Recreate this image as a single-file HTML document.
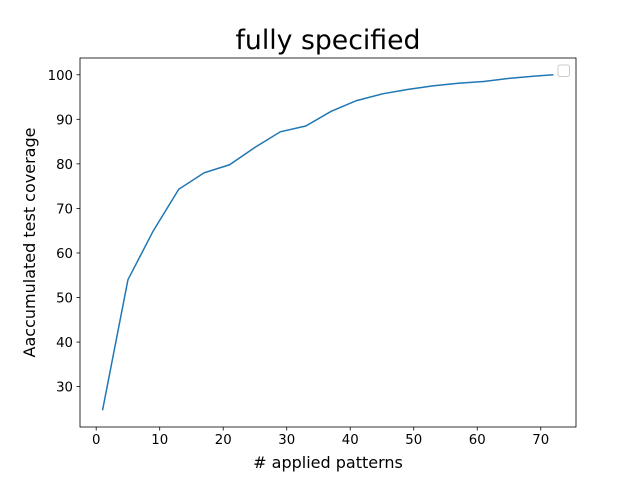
<!DOCTYPE html>
<html><head><meta charset="utf-8"><style>
body{margin:0;background:#fff}
svg text{font-family:"DejaVu Sans","Liberation Sans",sans-serif;fill:#000}
</style></head><body>
<svg width="640" height="480" id="c">
<rect width="640" height="480" fill="#fff"/>
<text x="328" y="49" font-size="26.7" text-anchor="middle">fully specified</text>
<g id="ax"></g>
<path id="line" fill="none" stroke="#1f77b4" stroke-width="1.5"/>
<rect x="80" y="58" width="496" height="369" fill="none" stroke="#000" stroke-width="0.8"/>
<rect x="558" y="65" width="11.5" height="11.5" rx="2" fill="#fff" stroke="#ccc" stroke-width="1"/>
<text x="328" y="468" font-size="16" text-anchor="middle"># applied patterns</text>
<text transform="translate(35,242.5) rotate(-90)" font-size="16" text-anchor="middle">Aaccumulated test coverage</text>
</svg>
<script>
const patterns=[1,5,9,13,17,21,25,29,33,37,41,45,49,53,57,61,65,69,72];
const coverage=[24.7,54,65,74.3,78,79.8,83.7,87.2,88.5,91.8,94.2,95.7,96.7,97.5,98.1,98.5,99.2,99.7,100];
const xTicks=[0,10,20,30,40,50,60,70];
const yTicks=[30,40,50,60,70,80,90,100];
const L=80,R=576,T=58,B=427;
const xmin=Math.min(...patterns),xmax=Math.max(...patterns),ymin=Math.min(...coverage),ymax=Math.max(...coverage);
const x0=xmin-(xmax-xmin)*0.05,x1=xmax+(xmax-xmin)*0.05,y0=ymin-(ymax-ymin)*0.05,y1=ymax+(ymax-ymin)*0.05;
const sx=v=>L+(v-x0)/(x1-x0)*(R-L), sy=v=>B-(v-y0)/(y1-y0)*(B-T);
const NS="http://www.w3.org/2000/svg",ax=document.getElementById('ax');
function mk(t,a){const e=document.createElementNS(NS,t);for(const k in a)e.setAttribute(k,a[k]);ax.appendChild(e);return e;}
xTicks.forEach(v=>{const x=sx(v);
const l=mk('line',{x1:x,x2:x,y1:B,y2:B+3.5,stroke:'#000','stroke-width':0.8});


const t=mk('text',{x:x,y:B+17,'font-size':13.3,'text-anchor':'middle'});t.textContent=v;

});
yTicks.forEach(v=>{const y=sy(v);
const l=mk('line',{x1:L-3.5,x2:L,y1:y,y2:y,stroke:'#000','stroke-width':0.8});


const t=mk('text',{x:L-7,y:y+5,'font-size':13.3,'text-anchor':'end'});t.textContent=v;

});
document.getElementById('line').setAttribute('d',patterns.map((p,i)=>(i?'L':'M')+sx(p)+','+sy(coverage[i])).join(''));
</script>
</body></html>
